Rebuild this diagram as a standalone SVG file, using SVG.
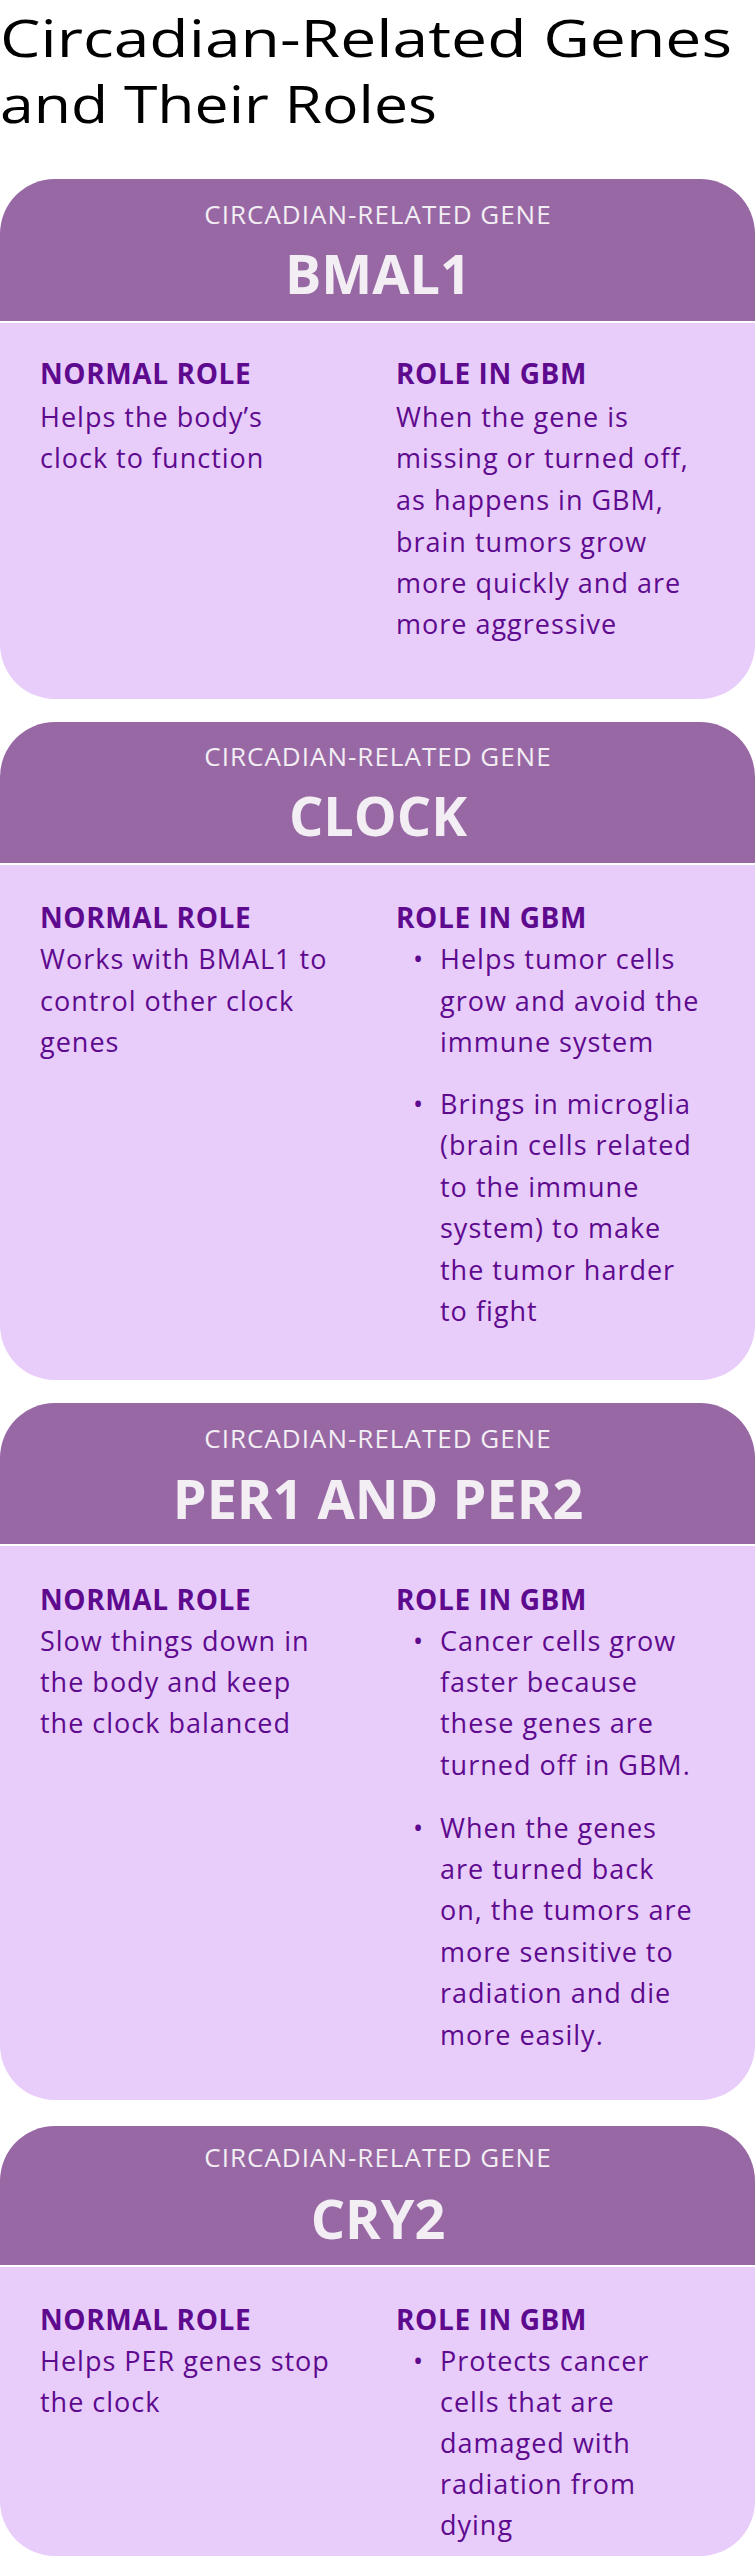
<svg xmlns="http://www.w3.org/2000/svg" width="756" height="2560" viewBox="0 0 756 2560">
<style>
.title{font-family:"Open Sans","Liberation Sans",sans-serif;font-size:52px;font-weight:500;fill:#000}
.hdr{fill:#9868A5}
.body{fill:#E8CCFA}
.sub{font-family:"Open Sans","Liberation Sans",sans-serif;font-size:26px;letter-spacing:1px;fill:#F2EEF3;text-anchor:middle}
.gene{font-family:"Open Sans","Liberation Sans",sans-serif;font-size:54px;font-weight:700;fill:#F2EEF3;text-anchor:middle}
.h{font-family:"Open Sans","Liberation Sans",sans-serif;font-size:28px;font-weight:700;letter-spacing:0.6px;fill:#5E0A8E}
.t{font-family:"Open Sans","Liberation Sans",sans-serif;font-size:27px;font-weight:500;letter-spacing:1px;fill:#5E0A8E}
</style>
<rect width="756" height="2560" fill="#fff"/>
<text class="title" x="0" y="57" textLength="732" lengthAdjust="spacingAndGlyphs">Circadian-Related Genes</text>
<text class="title" x="0" y="123" textLength="437" lengthAdjust="spacingAndGlyphs">and Their Roles</text>

<g id="card-bmal1">
<path class="hdr" d="M0,234 A55,55 0 0 1 55,179 H700 A55,55 0 0 1 755,234 V321 H0 Z"/>
<path class="body" d="M0,323 H755 V644 A55,55 0 0 1 700,699 H55 A55,55 0 0 1 0,644 Z"/>
<text class="sub" x="378" y="224">CIRCADIAN-RELATED GENE</text>
<text class="gene" x="378" y="294">BMAL1</text>
<text class="h" x="40" y="384">NORMAL ROLE</text>
<text class="t" x="40" y="427">Helps the body’s</text>
<text class="t" x="40" y="468">clock to function</text>
<text class="h" x="396" y="384">ROLE IN GBM</text>
<text class="t" x="396" y="427">When the gene is</text>
<text class="t" x="396" y="468">missing or turned off,</text>
<text class="t" x="396" y="510">as happens in GBM,</text>
<text class="t" x="396" y="552">brain tumors grow</text>
<text class="t" x="396" y="593">more quickly and are</text>
<text class="t" x="396" y="634">more aggressive</text>
</g>

<g id="card-clock">
<path class="hdr" d="M0,777 A55,55 0 0 1 55,722 H700 A55,55 0 0 1 755,777 V863 H0 Z"/>
<path class="body" d="M0,865 H755 V1325 A55,55 0 0 1 700,1380 H55 A55,55 0 0 1 0,1325 Z"/>
<text class="sub" x="378" y="766">CIRCADIAN-RELATED GENE</text>
<text class="gene" x="378" y="836">CLOCK</text>
<text class="h" x="40" y="928">NORMAL ROLE</text>
<text class="t" x="40" y="969">Works with BMAL1 to</text>
<text class="t" x="40" y="1011">control other clock</text>
<text class="t" x="40" y="1052">genes</text>
<text class="h" x="396" y="928">ROLE IN GBM</text>
<text class="t" x="413" y="969">•</text>
<text class="t" x="440" y="969">Helps tumor cells</text>
<text class="t" x="440" y="1011">grow and avoid the</text>
<text class="t" x="440" y="1052">immune system</text>
<text class="t" x="413" y="1114">•</text>
<text class="t" x="440" y="1114">Brings in microglia</text>
<text class="t" x="440" y="1155">(brain cells related</text>
<text class="t" x="440" y="1197">to the immune</text>
<text class="t" x="440" y="1238">system) to make</text>
<text class="t" x="440" y="1280">the tumor harder</text>
<text class="t" x="440" y="1321">to fight</text>
</g>

<g id="card-per">
<path class="hdr" d="M0,1458 A55,55 0 0 1 55,1403 H700 A55,55 0 0 1 755,1458 V1544 H0 Z"/>
<path class="body" d="M0,1546 H755 V2045 A55,55 0 0 1 700,2100 H55 A55,55 0 0 1 0,2045 Z"/>
<text class="sub" x="378" y="1448">CIRCADIAN-RELATED GENE</text>
<text class="gene" x="378" y="1519">PER1 AND PER2</text>
<text class="h" x="40" y="1610">NORMAL ROLE</text>
<text class="t" x="40" y="1651">Slow things down in</text>
<text class="t" x="40" y="1692">the body and keep</text>
<text class="t" x="40" y="1733">the clock balanced</text>
<text class="h" x="396" y="1610">ROLE IN GBM</text>
<text class="t" x="413" y="1651">•</text>
<text class="t" x="440" y="1651">Cancer cells grow</text>
<text class="t" x="440" y="1692">faster because</text>
<text class="t" x="440" y="1733">these genes are</text>
<text class="t" x="440" y="1775">turned off in GBM.</text>
<text class="t" x="413" y="1838">•</text>
<text class="t" x="440" y="1838">When the genes</text>
<text class="t" x="440" y="1879">are turned back</text>
<text class="t" x="440" y="1920">on, the tumors are</text>
<text class="t" x="440" y="1962">more sensitive to</text>
<text class="t" x="440" y="2003">radiation and die</text>
<text class="t" x="440" y="2045">more easily.</text>
</g>

<g id="card-cry2">
<path class="hdr" d="M0,2181 A55,55 0 0 1 55,2126 H700 A55,55 0 0 1 755,2181 V2265 H0 Z"/>
<path class="body" d="M0,2267 H755 V2501 A55,55 0 0 1 700,2556 H55 A55,55 0 0 1 0,2501 Z"/>
<text class="sub" x="378" y="2167">CIRCADIAN-RELATED GENE</text>
<text class="gene" x="378" y="2239">CRY2</text>
<text class="h" x="40" y="2330">NORMAL ROLE</text>
<text class="t" x="40" y="2371">Helps PER genes stop</text>
<text class="t" x="40" y="2412">the clock</text>
<text class="h" x="396" y="2330">ROLE IN GBM</text>
<text class="t" x="413" y="2371">•</text>
<text class="t" x="440" y="2371">Protects cancer</text>
<text class="t" x="440" y="2412">cells that are</text>
<text class="t" x="440" y="2453">damaged with</text>
<text class="t" x="440" y="2494">radiation from</text>
<text class="t" x="440" y="2535">dying</text>
</g>
</svg>
